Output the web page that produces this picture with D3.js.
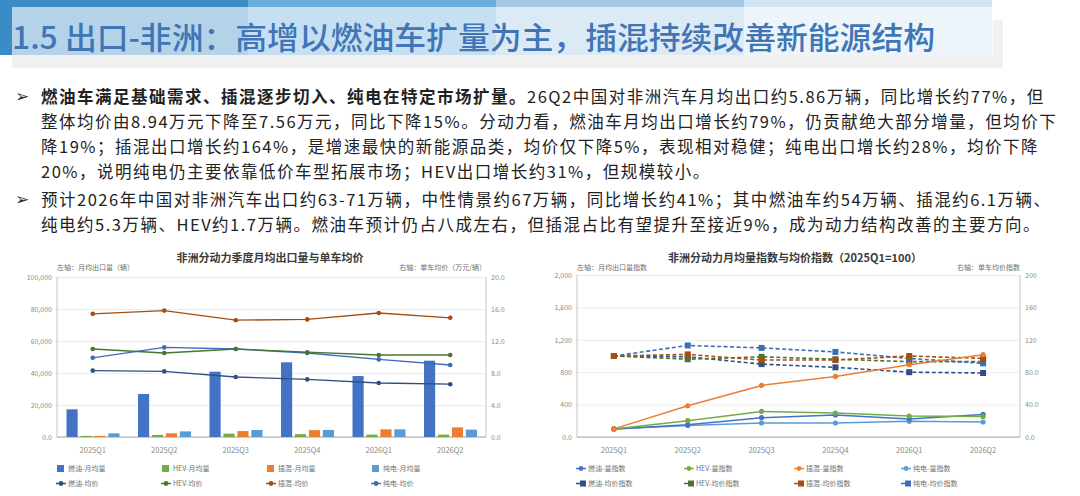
<!DOCTYPE html>
<html>
<head>
<meta charset="utf-8">
<script src="https://cdn.jsdelivr.net/npm/d3@7"></script>
<style>
    html, body { margin: 0; padding: 0; background: #fff; }
    svg { display: block; font-family: "Noto Sans CJK SC", "Noto Sans", sans-serif; }
</style>
</head>
<body>
<div id="svgcontainer"></div>
<script>
// ---- data ----
var quarters = ["2025Q1", "2025Q2", "2025Q3", "2025Q4", "2026Q1", "2026Q2"];

// left chart: monthly avg export volume (units) and avg price (10k yuan)
var volIce = [17300, 26900, 40800, 46700, 38100, 47700];
var volHev = [700, 1300, 2100, 1800, 1500, 1500];
var volPhev = [700, 2300, 3700, 4300, 4800, 6000];
var volBev = [2300, 3500, 4400, 4400, 4800, 4600];
var priceIce = [8.3, 8.2, 7.5, 7.2, 6.75, 6.6];
var priceHev = [11.0, 10.5, 11.0, 10.6, 10.25, 10.25];
var pricePhev = [15.4, 15.8, 14.6, 14.7, 15.5, 14.9];
var priceBev = [9.9, 11.2, 11.0, 10.5, 9.7, 9.0];

// right chart: index, 2025Q1 = 100
var volIdxIce = [100, 152, 238, 272, 222, 279];
var volIdxHev = [100, 201, 316, 296, 259, 254];
var volIdxPhev = [100, 386, 637, 748, 893, 1016];
var volIdxBev = [100, 143, 173, 173, 193, 185];
var priceIdxIce = [100, 99, 90, 86, 80, 79];
var priceIdxHev = [100, 96, 99, 96, 93, 93];
var priceIdxPhev = [100, 102, 95, 95, 100, 97];
var priceIdxBev = [100, 113, 110, 105, 97, 91];

var volTicks = [0, 20000, 40000, 60000, 80000, 100000];
var volTickLabels = ["0.0", "20,000", "40,000", "60,000", "80,000", "100,000"];
var priceTicks = [0, 4, 8, 12, 16, 20];
var priceTickLabels = ["0.0", "4.0", "8.0", "12.0", "16.0", "20.0"];
var volIdxTicks = [0, 400, 800, 1200, 1600, 2000];
var volIdxTickLabels = ["0.0", "400", "800", "1,200", "1,600", "2,000"];
var priceIdxTicks = [0, 40, 80, 120, 160, 200];
var priceIdxTickLabels = ["0.0", "40.0", "80.0", "120", "160", "200"];

var barNames = ["燃油-月均量", "HEV-月均量", "插混-月均量", "纯电-月均量"];
var priceNames = ["燃油-均价", "HEV-均价", "插混-均价", "纯电-均价"];
var volIdxNames = ["燃油-量指数", "HEV-量指数", "插混-量指数", "纯电-量指数"];
var priceIdxNames = ["燃油-均价指数", "HEV-均价指数", "插混-均价指数", "纯电-均价指数"];

var bodyLines = [
    ["燃油车满足基础需求、插混逐步切入、纯电在特定市场扩量。", "26Q2中国对非洲汽车月均出口约5.86万辆，同比增长约77%，但"],
    ["", "整体均价由8.94万元下降至7.56万元，同比下降15%。分动力看，燃油车月均出口增长约79%，仍贡献绝大部分增量，但均价下"],
    ["", "降19%；插混出口增长约164%，是增速最快的新能源品类，均价仅下降5%，表现相对稳健；纯电出口增长约28%，均价下降"],
    ["", "20%，说明纯电仍主要依靠低价车型拓展市场；HEV出口增长约31%，但规模较小。"],
    ["", "预计2026年中国对非洲汽车出口约63-71万辆，中性情景约67万辆，同比增长约41%；其中燃油车约54万辆、插混约6.1万辆、"],
    ["", "纯电约5.3万辆、HEV约1.7万辆。燃油车预计仍占八成左右，但插混占比有望提升至接近9%，成为动力结构改善的主要方向。"]
];
var bulletRows = [0, 4];

(function () {

    var width = 1080;
    var height = 496;

    var BAR_COLORS = ["#4472c4", "#70ad47", "#ed7d31", "#5b9bd5"];
    var PRICE_COLORS = ["#2c4f86", "#4a7431", "#a64d12", "#3c6db4"];
    var TICK_GRAY = "#8a8a8a";
    var AXIS_GRAY = "#c4c4c4";

    var svg = d3.select("#svgcontainer")
        .append("svg").attr("width", width).attr("height", height);

    /**
     * Header banner
     */
    svg.append("rect")
        .attr("x", 12).attr("y", 20)
        .attr("width", 991).attr("height", 48)
        .attr("fill", "#f1f1f1");

    var stripeColors = ["#3a8cc6", "#6aacdc", "#a3c9e7", "#d0e4f3"];
    stripeColors.forEach(function (c, i) {
        svg.append("rect")
            .attr("x", i * 248).attr("y", 0)
            .attr("width", 248).attr("height", 55)
            .attr("fill", c);
    });

    svg.append("rect")
        .attr("x", 12).attr("y", 7)
        .attr("width", 981).attr("height", 48)
        .attr("fill", "#ffffff")
        .attr("fill-opacity", 0.62);

    svg.append("text")
        .attr("x", 12)
        .attr("y", 49)
        .attr("textLength", 923)
        .attr("lengthAdjust", "spacingAndGlyphs")
        .style("font-size", "31px")
        .style("font-weight", "500")
        .style("fill", "#4175b6")
        .text("1.5 出口-非洲：高增以燃油车扩量为主，插混持续改善新能源结构");

    /**
     * Body text
     */
    var LINE_Y = [103, 128, 153, 178, 206, 231];
    bodyLines.forEach(function (parts, i) {
        if (bulletRows.indexOf(i) >= 0) {
            svg.append("text")
                .attr("x", 15).attr("y", LINE_Y[i] - 1)
                .style("font-size", "17px")
                .style("fill", "#333")
                .text("➢");
        }
        var t = svg.append("text")
            .attr("x", 41).attr("y", LINE_Y[i])
            .style("font-size", "16.5px")
            .style("letter-spacing", "1.5px")
            .style("fill", "#222");
        if (parts[0]) {
            t.append("tspan").style("font-weight", "bold").text(parts[0]);
        }
        t.append("tspan").text(parts[1]);
    });

    /**
     * Shared chart frame
     */
    function drawFrame(cfg) {
        var g = svg.append("g");

        g.append("text")
            .attr("x", cfg.titleX).attr("y", 262)
            .attr("text-anchor", "middle")
            .style("font-size", "11px")
            .style("font-weight", "bold")
            .style("fill", "#3a3a3a")
            .text(cfg.title);

        g.append("text")
            .attr("x", cfg.x0).attr("y", 270)
            .style("font-size", "7px")
            .style("fill", "#707070")
            .text(cfg.leftCaption);

        g.append("text")
            .attr("x", cfg.x1).attr("y", 270)
            .attr("text-anchor", "end")
            .style("font-size", "7px")
            .style("fill", "#707070")
            .text(cfg.rightCaption);

        // gridlines + left labels
        var ax = g.append("g")
            .attr("transform", "translate(" + cfg.x0 + ",0)")
            .call(d3.axisLeft(cfg.yLeft)
                .tickValues(cfg.leftTicks)
                .tickSize(-(cfg.x1 - cfg.x0))
                .tickPadding(5)
                .tickFormat(function (d, i) { return cfg.leftLabels[i]; }));
        ax.select(".domain").remove();
        ax.selectAll(".tick line").attr("stroke", "#ececec");
        ax.selectAll(".tick text")
            .style("font-size", "7px")
            .style("font-family", "'Noto Sans CJK SC', sans-serif")
            .attr("fill", TICK_GRAY);

        var ax2 = g.append("g")
            .attr("transform", "translate(" + cfg.x1 + ",0)")
            .call(d3.axisRight(cfg.yRight)
                .tickValues(cfg.rightTicks)
                .tickSize(0)
                .tickPadding(5)
                .tickFormat(function (d, i) { return cfg.rightLabels[i]; }));
        ax2.select(".domain").remove();
        ax2.selectAll(".tick text")
            .style("font-size", "7px")
            .style("font-family", "'Noto Sans CJK SC', sans-serif")
            .attr("fill", TICK_GRAY);

        // axis lines
        g.append("line")
            .attr("x1", cfg.x0).attr("x2", cfg.x0)
            .attr("y1", cfg.yTop).attr("y2", cfg.yBot)
            .attr("stroke", AXIS_GRAY);
        g.append("line")
            .attr("x1", cfg.x1).attr("x2", cfg.x1)
            .attr("y1", cfg.yTop).attr("y2", cfg.yBot)
            .attr("stroke", AXIS_GRAY);
        g.append("line")
            .attr("x1", cfg.x0).attr("x2", cfg.x1)
            .attr("y1", cfg.yBot).attr("y2", cfg.yBot)
            .attr("stroke", "#a6a6a6");

        // category labels
        var xa = g.append("g")
            .attr("transform", "translate(0," + cfg.yBot + ")")
            .call(d3.axisBottom(cfg.x).tickSize(0).tickPadding(11));
        xa.select(".domain").remove();
        xa.selectAll(".tick text")
            .style("font-size", "7.5px")
            .style("font-family", "'Noto Sans CJK SC', sans-serif")
            .attr("fill", TICK_GRAY);

        return g;
    }

    function legendItem(g, x, y, name, kind, color) {
        if (kind === "square") {
            g.append("rect")
                .attr("x", x).attr("y", y - 6)
                .attr("width", 7).attr("height", 7)
                .attr("fill", color);
        } else if (kind === "lineDot") {
            g.append("line")
                .attr("x1", x - 1).attr("x2", x + 9)
                .attr("y1", y - 2.5).attr("y2", y - 2.5)
                .attr("stroke", color).attr("stroke-width", 1.5);
            g.append("circle")
                .attr("cx", x + 4).attr("cy", y - 2.5).attr("r", 2.4)
                .attr("fill", color);
        } else {
            g.append("line")
                .attr("x1", x - 1).attr("x2", x + 6)
                .attr("y1", y - 2.5).attr("y2", y - 2.5)
                .attr("stroke", color).attr("stroke-width", 1.5);
            g.append("rect")
                .attr("x", x + 3).attr("y", y - 5.5)
                .attr("width", 6).attr("height", 6)
                .attr("fill", color);
        }
        g.append("text")
            .attr("x", x + 11).attr("y", y)
            .style("font-size", "7px")
            .style("fill", "#707070")
            .text(name);
    }

    /**
     * Left chart: volumes (bars) + prices (lines)
     */
    var L = { x0: 57, x1: 486, yTop: 277, yBot: 437 };
    var xL = d3.scaleBand().domain(quarters).range([L.x0, L.x1]);
    var yVol = d3.scaleLinear().domain([0, 100000]).range([L.yBot, L.yTop]);
    var yPrice = d3.scaleLinear().domain([0, 20]).range([L.yBot, L.yTop]);

    var gL = drawFrame({
        x0: L.x0, x1: L.x1, yTop: L.yTop, yBot: L.yBot,
        x: xL, yLeft: yVol, yRight: yPrice,
        leftTicks: volTicks, leftLabels: volTickLabels,
        rightTicks: priceTicks, rightLabels: priceTickLabels,
        titleX: 270,
        title: "非洲分动力季度月均出口量与单车均价",
        leftCaption: "左轴：月均出口量（辆）",
        rightCaption: "右轴：单车均价（万元/辆）"
    });

    var volSeries = [volIce, volHev, volPhev, volBev];
    var xInner = d3.scaleBand()
        .domain(d3.range(volSeries.length))
        .range([9.5, 62.5])
        .paddingInner(0.2);

    volSeries.forEach(function (vals, s) {
        gL.selectAll(null)
            .data(vals)
            .enter()
            .append("rect")
            .attr("x", function (d, i) { return xL(quarters[i]) + xInner(s); })
            .attr("y", function (d) { return yVol(d); })
            .attr("width", xInner.bandwidth())
            .attr("height", function (d) { return L.yBot - yVol(d); })
            .attr("fill", BAR_COLORS[s]);
    });

    var priceSeries = [priceIce, priceHev, pricePhev, priceBev];
    var drawOrder = [0, 3, 1, 2];
    drawOrder.forEach(function (s) {
        var vals = priceSeries[s];
        var line = d3.line()
            .x(function (d, i) { return xL(quarters[i]) + xL.bandwidth() / 2; })
            .y(function (d) { return yPrice(d); });
        gL.append("path")
            .attr("d", line(vals))
            .attr("fill", "none")
            .attr("stroke", PRICE_COLORS[s])
            .attr("stroke-width", 1.3);
        gL.selectAll(null)
            .data(vals)
            .enter()
            .append("circle")
            .attr("cx", function (d, i) { return xL(quarters[i]) + xL.bandwidth() / 2; })
            .attr("cy", function (d) { return yPrice(d); })
            .attr("r", 2.3)
            .attr("fill", PRICE_COLORS[s]);
    });

    var legL = [57, 162, 267, 372];
    barNames.forEach(function (n, i) {
        legendItem(gL, legL[i], 471, n, "square", BAR_COLORS[i]);
    });
    priceNames.forEach(function (n, i) {
        legendItem(gL, legL[i], 486, n, "lineDot", PRICE_COLORS[i]);
    });

    /**
     * Right chart: volume index (solid) + price index (dashed)
     */
    var R = { x0: 577, x1: 1020, yTop: 275, yBot: 437 };
    var xR = d3.scaleBand().domain(quarters).range([R.x0, R.x1]);
    var yVolIdx = d3.scaleLinear().domain([0, 2000]).range([R.yBot, R.yTop]);
    var yPriceIdx = d3.scaleLinear().domain([0, 200]).range([R.yBot, R.yTop]);

    var gR = drawFrame({
        x0: R.x0, x1: R.x1, yTop: R.yTop, yBot: R.yBot,
        x: xR, yLeft: yVolIdx, yRight: yPriceIdx,
        leftTicks: volIdxTicks, leftLabels: volIdxTickLabels,
        rightTicks: priceIdxTicks, rightLabels: priceIdxTickLabels,
        titleX: 795,
        title: "非洲分动力月均量指数与均价指数（2025Q1=100）",
        leftCaption: "左轴：月均出口量指数",
        rightCaption: "右轴：单车均价指数"
    });

    function cxR(d, i) { return xR(quarters[i]) + xR.bandwidth() / 2; }

    var priceIdxSeries = [priceIdxIce, priceIdxHev, priceIdxPhev, priceIdxBev];
    [0, 1, 3, 2].forEach(function (s) {
        var vals = priceIdxSeries[s];
        var line = d3.line().x(cxR).y(function (d) { return yPriceIdx(d); });
        gR.append("path")
            .attr("d", line(vals))
            .attr("fill", "none")
            .attr("stroke", PRICE_COLORS[s])
            .attr("stroke-width", 1.6)
            .attr("stroke-dasharray", "4,2.5");
        gR.selectAll(null)
            .data(vals)
            .enter()
            .append("rect")
            .attr("x", function (d, i) { return cxR(d, i) - 3; })
            .attr("y", function (d) { return yPriceIdx(d) - 3; })
            .attr("width", 6).attr("height", 6)
            .attr("fill", PRICE_COLORS[s]);
    });

    var volIdxSeries = [volIdxIce, volIdxHev, volIdxPhev, volIdxBev];
    [3, 0, 1, 2].forEach(function (s) {
        var vals = volIdxSeries[s];
        var line = d3.line().x(cxR).y(function (d) { return yVolIdx(d); });
        gR.append("path")
            .attr("d", line(vals))
            .attr("fill", "none")
            .attr("stroke", BAR_COLORS[s])
            .attr("stroke-width", 1.5);
        gR.selectAll(null)
            .data(vals)
            .enter()
            .append("circle")
            .attr("cx", cxR)
            .attr("cy", function (d) { return yVolIdx(d); })
            .attr("r", 2.6)
            .attr("fill", BAR_COLORS[s]);
    });

    var legR = [577, 685, 795, 902];
    volIdxNames.forEach(function (n, i) {
        legendItem(gR, legR[i], 471, n, "lineDot", BAR_COLORS[i]);
    });
    priceIdxNames.forEach(function (n, i) {
        legendItem(gR, legR[i], 486, n, "lineSquare", PRICE_COLORS[i]);
    });

})();
</script>
</body>
</html>
